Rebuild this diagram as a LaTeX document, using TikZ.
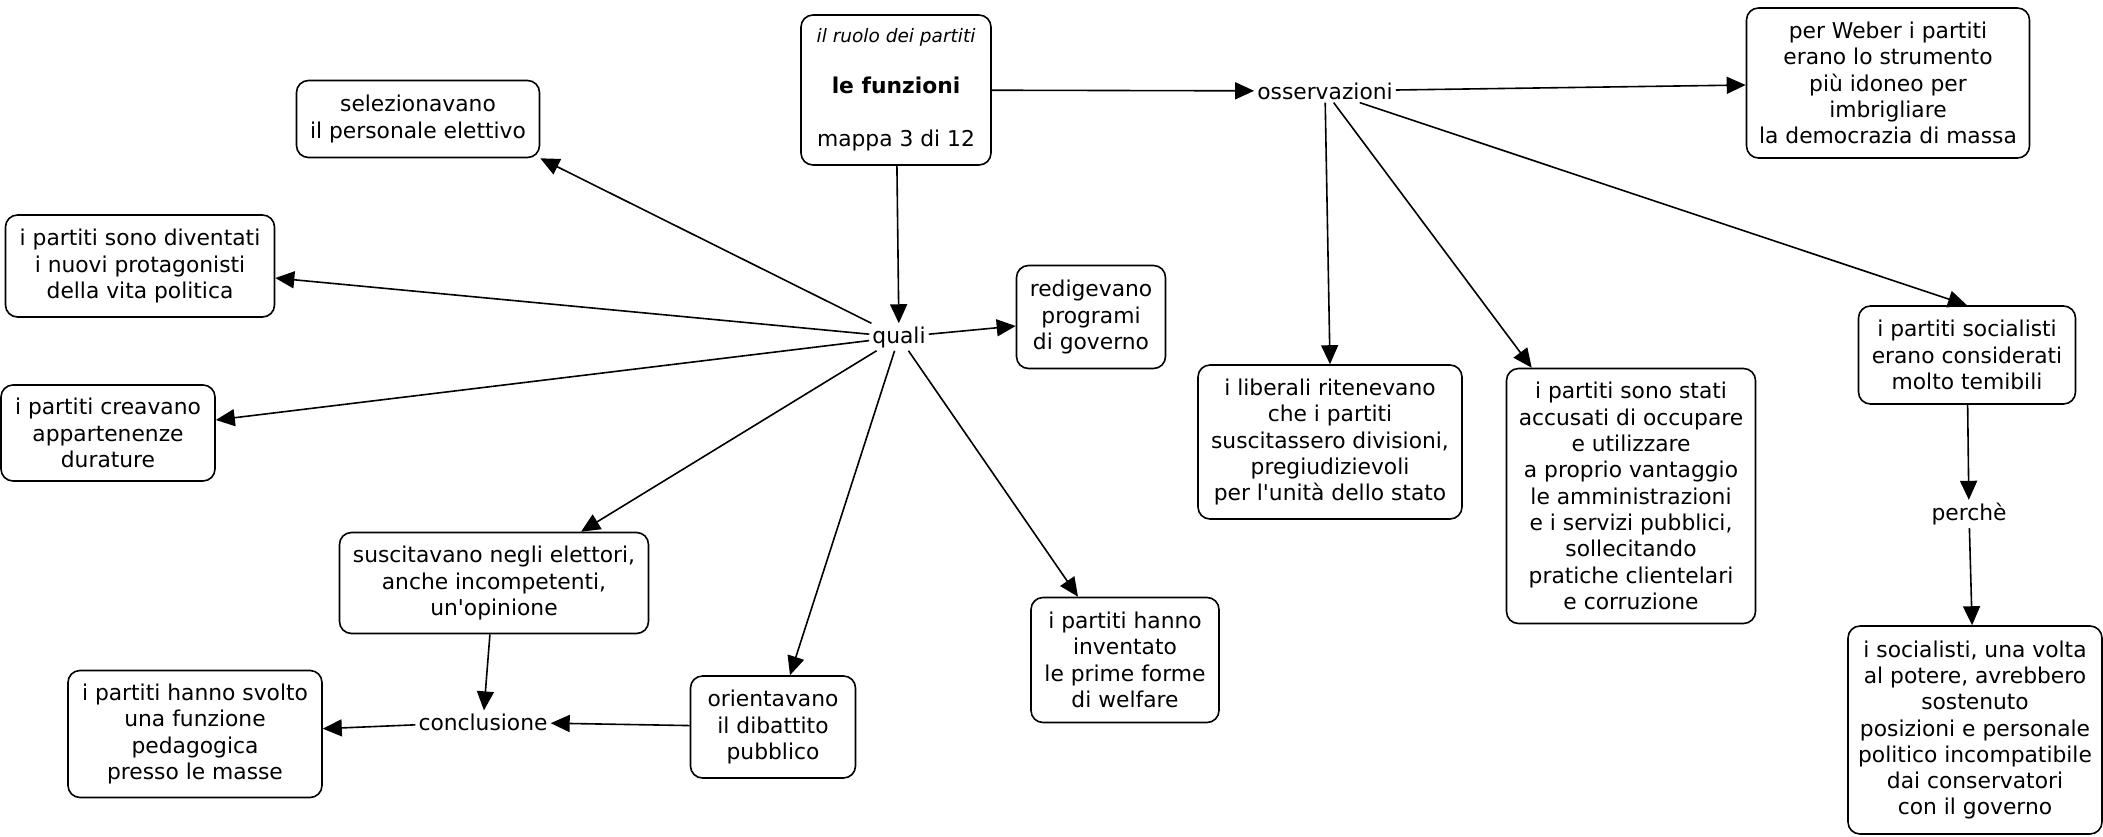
\documentclass[tikz,border=0pt]{standalone}
\usepackage{fontspec}
\setmainfont{DejaVu Sans}
\usetikzlibrary{arrows.meta,calc}
\begin{document}
\begin{tikzpicture}[x=1pt,y=-1pt,
  box/.style={draw, line width=1.6pt, rounded corners=12pt, align=center, inner sep=0pt,
              font=\fontsize{21.8}{26.3}\selectfont},
  lbl/.style={align=center, inner sep=3pt, font=\fontsize{21.8}{26.3}\selectfont},
  arr/.style={line width=1.6pt, -{Triangle[length=19pt,width=17pt]}}]
\useasboundingbox (0,0) rectangle (2103,836);

\node[box, minimum width=190, minimum height=150] (title) at (896,90)
  {{\fontsize{18.5}{20}\selectfont\itshape il ruolo dei partiti}\\[24pt]\textbf{le funzioni}\\[27pt]mappa 3 di 12};
\node[lbl] (oss) at (1325,91) {osservazioni};
\node[box, minimum width=283, minimum height=150] (weber) at (1888,83)
  {per Weber i partiti\\erano lo strumento\\più idoneo per\\imbrigliare\\la democrazia di massa};
\node[box, minimum width=243, minimum height=77] (sel) at (418,119)
  {selezionavano\\il personale elettivo};
\node[box, minimum width=269, minimum height=102] (div) at (140,266)
  {i partiti sono diventati\\i nuovi protagonisti\\della vita politica};
\node[box, minimum width=214, minimum height=96] (crea) at (108,433)
  {i partiti creavano\\appartenenze\\durature};
\node[lbl] (quali) at (899,337) {quali};
\node[box, minimum width=149, minimum height=103] (red) at (1091,317)
  {redigevano\\programi\\di governo};
\node[box, minimum width=309, minimum height=101] (sus) at (494,583)
  {suscitavano negli elettori,\\anche incompetenti,\\un\textquotesingle opinione};
\node[lbl] (concl) at (483,722) {conclusione};
\node[box, minimum width=254, minimum height=127] (svolto) at (195,734)
  {i partiti hanno svolto\\una funzione\\pedagogica\\presso le masse};
\node[box, minimum width=165, minimum height=102] (ori) at (773,727)
  {orientavano\\il dibattito\\pubblico};
\node[box, minimum width=188, minimum height=125] (wel) at (1125,660)
  {i partiti hanno\\inventato\\le prime forme\\di welfare};
\node[box, minimum width=264, minimum height=154] (lib) at (1330,442)
  {i liberali ritenevano\\che i partiti\\suscitassero divisioni,\\pregiudizievoli\\per l\textquotesingle unità dello stato};
\node[box, minimum width=249, minimum height=255] (stati) at (1631,496)
  {i partiti sono stati\\accusati di occupare\\e utilizzare\\a proprio vantaggio\\le amministrazioni\\e i servizi pubblici,\\sollecitando\\pratiche clientelari\\e corruzione};
\node[box, minimum width=217, minimum height=98] (soc) at (1967,355)
  {i partiti socialisti\\erano considerati\\molto temibili};
\node[lbl] (perche) at (1969,514) {perchè};
\node[box, minimum width=254, minimum height=208] (bot) at (1975,730)
  {i socialisti, una volta\\al potere, avrebbero\\sostenuto\\posizioni e personale\\politico incompatibile\\dai conservatori\\con il governo};

\draw[arr] (title) -- (quali);
\draw[arr] (title) -- (oss);
\draw[arr] (oss) -- (weber);
\draw[arr] (oss) -- (lib.north);
\draw[arr] (oss) -- ($(stati.north west)+(26,0)$);
\draw[arr] (oss) -- (soc.north);
\draw[arr] (soc) -- (perche);
\draw[arr] (perche) -- (bot);
\draw[arr] (quali) -- (sel.south east);
\draw[arr] (quali) -- ($(div.east)+(0,12)$);
\draw[arr] (quali) -- ($(crea.east)+(0,-13)$);
\draw[arr] (quali) -- ($(red.west)+(0,9)$);
\draw[arr] (quali) -- ($(sus.north)+(87,0)$);
\draw[arr] (quali) -- ($(ori.north)+(17,0)$);
\draw[arr] (quali) -- ($(wel.north)+(-47,0)$);
\draw[arr] (sus) -- (concl);
\draw[arr] (ori) -- (concl);
\draw[arr] (concl) -- (svolto);
\end{tikzpicture}
\end{document}
